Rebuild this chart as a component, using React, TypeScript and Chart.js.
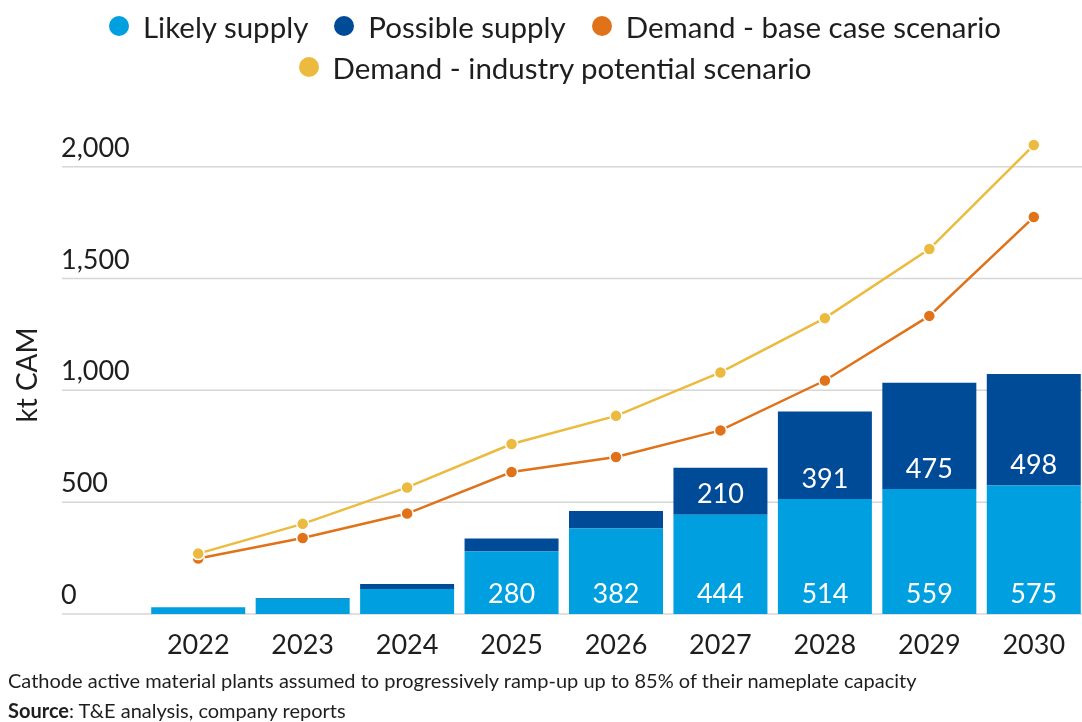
import React, { useEffect, useRef } from "react";
import { Chart, registerables } from "chart.js";

Chart.register(...registerables);

const years = ["2022", "2023", "2024", "2025", "2026", "2027", "2028", "2029", "2030"];
const likelySupply = [30, 68, 112, 280, 382, 444, 514, 559, 575];
const possibleSupply = [0, 4, 22, 58, 79, 210, 391, 475, 498];
const demandBase = [248, 340, 449, 635, 702, 821, 1044, 1333, 1775];
const demandIndustry = [270, 403, 566, 760, 886, 1080, 1323, 1632, 2097];
const yTicks = [0, 500, 1000, 1500, 2000];

const seriesNames = [
  "Likely supply",
  "Possible supply",
  "Demand - base case scenario",
  "Demand - industry potential scenario",
];
const seriesColors = ["#009FDF", "#004B97", "#E0721A", "#ECBA3E"];
const legendRows = [[0, 1, 2], [3]];

const FONT = "Lato, 'Noto Sans', sans-serif";
const TEXT = "#1e1e1e";
const CW = 1094;

export default function App() {
  const ref = useRef<HTMLCanvasElement>(null);

  useEffect(() => {
    document.body.style.margin = "0";
    const canvas = ref.current;
    if (!canvas) return;

    const overlay = {
      id: "overlay",
      beforeDatasetsDraw(chart: any) {
        const y = chart.scales.y;
        const c = chart.ctx;
        c.save();
        c.strokeStyle = "#d6d6d6";
        c.lineWidth = 1.5;
        c.font = `27px ${FONT}`;
        c.fillStyle = TEXT;
        c.textAlign = "left";
        c.textBaseline = "alphabetic";
        yTicks.forEach((v) => {
          const py = y.getPixelForValue(v);
          c.beginPath();
          c.moveTo(62, py);
          c.lineTo(chart.width, py);
          c.stroke();
          c.fillText(v.toLocaleString("en-US"), 61, py - 10);
        });
        c.translate(28, 375);
        c.rotate(-Math.PI / 2);
        c.textAlign = "center";
        c.textBaseline = "middle";
        c.font = `28px ${FONT}`;
        c.fillText("kt CAM", 0, 0);
        c.restore();
      },
      afterDatasetsDraw(chart: any) {
        const c = chart.ctx;
        c.save();
        c.font = `27px ${FONT}`;
        c.fillStyle = "#ffffff";
        c.textAlign = "center";
        c.textBaseline = "middle";
        [0, 1].forEach((di) => {
          const meta = chart.getDatasetMeta(di);
          const values = chart.data.datasets[di].data as number[];
          meta.data.forEach((el: any, i: number) => {
            if (values[i] >= 200) {
              c.fillText(String(values[i]), el.x, el.base - 20);
            }
          });
        });
        c.restore();
      },
    };

    const chart = new Chart(canvas, {
      type: "bar",
      data: {
        labels: years,
        datasets: [
          {
            type: "bar",
            label: seriesNames[0],
            data: likelySupply,
            backgroundColor: seriesColors[0],
            stack: "supply",
            order: 2,
            barPercentage: 0.9,
            categoryPercentage: 1,
          },
          {
            type: "bar",
            label: seriesNames[1],
            data: possibleSupply,
            backgroundColor: seriesColors[1],
            stack: "supply",
            order: 2,
            barPercentage: 0.9,
            categoryPercentage: 1,
          },
          {
            type: "line",
            label: seriesNames[2],
            data: demandBase,
            borderColor: seriesColors[2],
            backgroundColor: seriesColors[2],
            pointBackgroundColor: seriesColors[2],
            pointBorderColor: "#ffffff",
            pointBorderWidth: 1.5,
            pointRadius: 6,
            borderWidth: 2.5,
            tension: 0,
            stack: "base",
            order: 1,
          },
          {
            type: "line",
            label: seriesNames[3],
            data: demandIndustry,
            borderColor: seriesColors[3],
            backgroundColor: seriesColors[3],
            pointBackgroundColor: seriesColors[3],
            pointBorderColor: "#ffffff",
            pointBorderWidth: 1.5,
            pointRadius: 6,
            borderWidth: 2.5,
            tension: 0,
            stack: "industry",
            order: 0,
          },
        ],
      },
      options: {
        responsive: false,
        animation: false,
        devicePixelRatio: 1,
        layout: { padding: { left: 146, right: 8, top: 122, bottom: 48 } },
        plugins: {
          legend: { display: false },
          tooltip: { enabled: false },
        },
        scales: {
          x: {
            stacked: true,
            grid: { display: false, drawTicks: false },
            border: { display: false },
            ticks: {
              color: TEXT,
              font: { family: FONT, size: 27 },
              padding: 15,
            },
            afterFit: (s: any) => {
              s.height = 60;
            },
          },
          y: {
            stacked: true,
            display: false,
            min: 0,
            max: 2200,
          },
        },
      },
      plugins: [overlay],
    });

    return () => chart.destroy();
  }, []);

  return (
    <div
      style={{
        position: "fixed",
        left: 0,
        top: 0,
        width: CW,
        height: 722,
        overflow: "hidden",
        background: "#ffffff",
        fontFamily: FONT,
        color: TEXT,
      }}
    >
      <div style={{ position: "absolute", left: 0, top: 0, width: CW, height: 722 }}>
        <canvas ref={ref} width={CW} height={722} style={{ display: "block", width: CW, height: 722 }} />
      </div>
      <div style={{ position: "absolute", left: 0, top: 0, width: 1110, textAlign: "center" }}>
        {legendRows.map((row, ri) => (
          <div
            key={ri}
            style={{
              position: "absolute",
              left: 0,
              width: 1110,
              top: 6 + ri * 41,
              height: 40,
              display: "flex",
              justifyContent: "center",
              alignItems: "center",
              fontSize: 29.5,
              whiteSpace: "nowrap",
            }}
          >
            {row.map((si, k) => (
              <span
                key={si}
                style={{ display: "inline-flex", alignItems: "center", marginLeft: k === 0 ? 0 : 26 }}
              >
                <span
                  style={{
                    display: "inline-block",
                    width: 20,
                    height: 20,
                    borderRadius: 10,
                    background: seriesColors[si],
                    marginRight: 14,
                  }}
                />
                {seriesNames[si]}
              </span>
            ))}
          </div>
        ))}
      </div>
      <div style={{ position: "absolute", left: 8, top: 665, fontSize: 20, lineHeight: "30px", whiteSpace: "nowrap" }}>
        <div>Cathode active material plants assumed to progressively ramp-up up to 85% of their nameplate capacity</div>
        <div>
          <b>Source</b>: T&amp;E analysis, company reports
        </div>
      </div>
    </div>
  );
}
